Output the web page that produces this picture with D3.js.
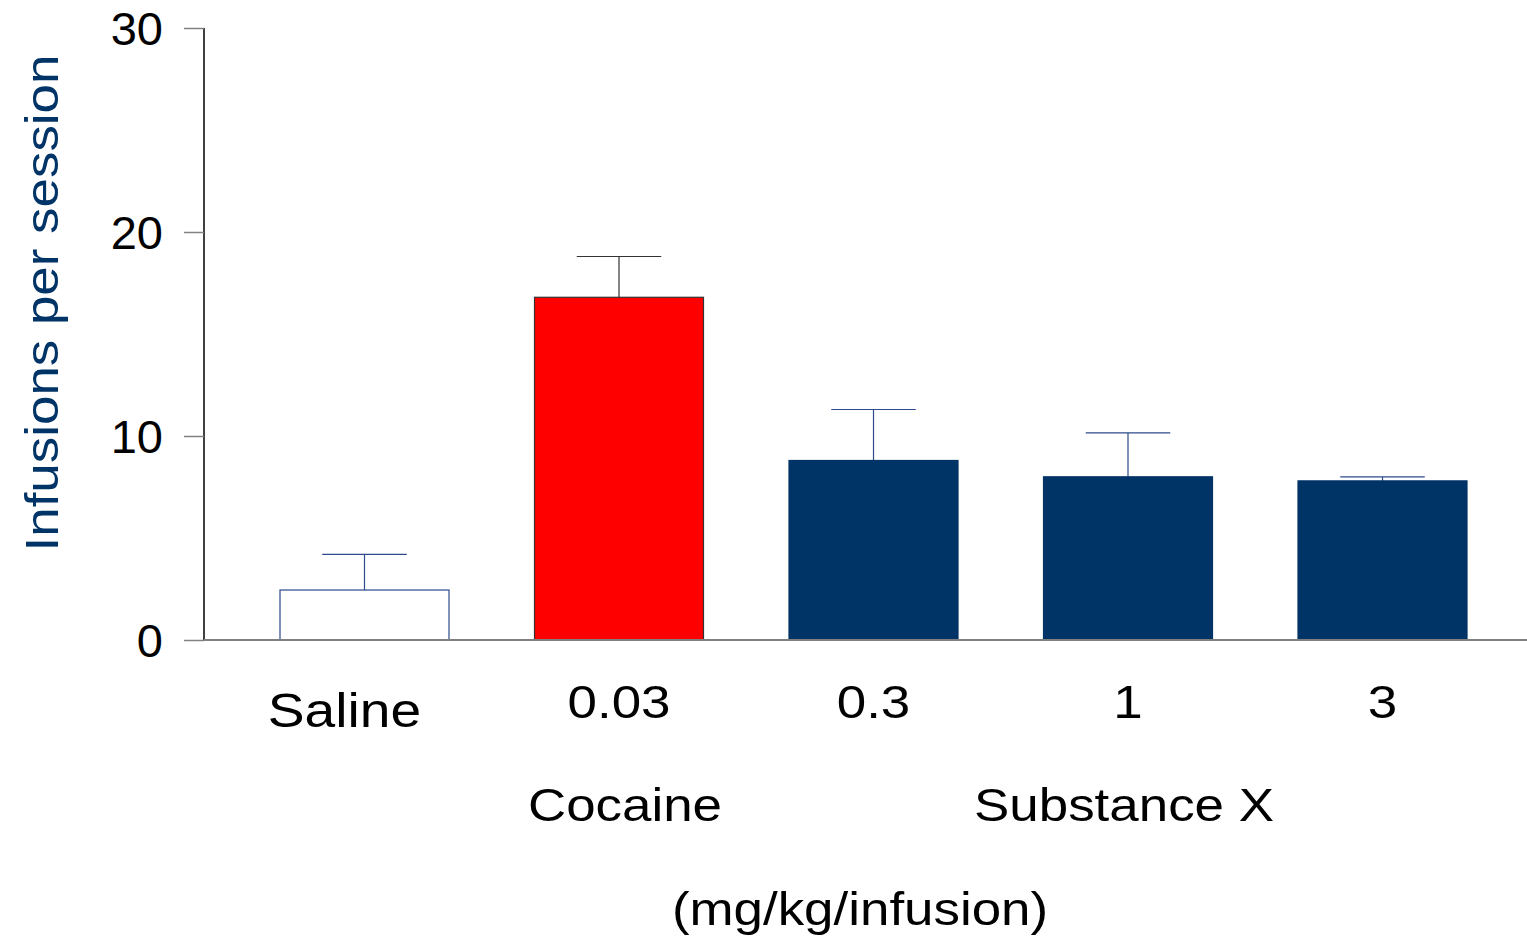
<!DOCTYPE html>
<html>
<head>
<meta charset="utf-8">
<script src="https://cdn.jsdelivr.net/npm/d3@7"></script>
<style>
  body { margin: 0; background: #fff; }
  svg text { font-family: "Liberation Sans", Arial, sans-serif; }
</style>
</head>
<body>
<div id="chart"></div>
<script>
// values
const groups = ['Saline', '0.03', '0.3', '1', '3']
const means = [2.45, 16.8, 8.8, 8.0, 7.8]
const sems = [1.75, 2.0, 2.5, 2.15, 0.2]
const yTicks = [0, 10, 20, 30]
const drugs = [
  { name: 'Cocaine', from: '0.03', to: '0.03' },
  { name: 'Substance X', from: '0.3', to: '3' }
]

const width = 1527
const height = 938
const margin = { top: 28, left: 204, right: 0, bottom: 298 }
const stretch = 1.15 // text in the picture is a bit wider than plain Arial

const fills = ['#ffffff', '#ff0000', '#003366', '#003366', '#003366']
const strokes = ['#2c4a8c', '#333333', '#003366', '#003366', '#003366']
const errColors = ['#2c4a8c', '#333333', '#2c4a8c', '#2c4a8c', '#2c4a8c']

const svg = d3.select('#chart').append('svg')
  .attr('width', width)
  .attr('height', height)

const x = d3.scaleBand()
  .domain(groups)
  .range([205, 1542])
  .paddingInner(0.336)
  .paddingOuter(0.2947)

const y = d3.scaleLinear()
  .domain([0, 30])
  .range([height - margin.bottom, margin.top])

// error bars (drawn first so the bar covers the lower part)
const err = svg.append('g')
groups.forEach((g, i) => {
  const cx = x(g) + x.bandwidth() / 2
  err.append('line')
    .attr('x1', cx).attr('x2', cx)
    .attr('y1', y(means[i])).attr('y2', y(means[i] + sems[i]))
    .attr('stroke', errColors[i]).attr('stroke-width', 1.2)
  err.append('line')
    .attr('x1', cx - x.bandwidth() * 0.25).attr('x2', cx + x.bandwidth() * 0.25)
    .attr('y1', y(means[i] + sems[i])).attr('y2', y(means[i] + sems[i]))
    .attr('stroke', errColors[i]).attr('stroke-width', 1.2)
})

svg.append('g')
  .selectAll('rect')
  .data(groups)
  .join('rect')
  .attr('x', d => x(d))
  .attr('width', x.bandwidth())
  .attr('y', (d, i) => y(means[i]))
  .attr('height', (d, i) => y(0) - y(means[i]))
  .attr('fill', (d, i) => fills[i])
  .attr('stroke', (d, i) => strokes[i])
  .attr('stroke-width', 1.2)

// y axis
const yAxis = svg.append('g')
  .attr('transform', `translate(${margin.left},0)`)
  .call(d3.axisLeft(y).tickValues(yTicks).tickSize(20).tickPadding(21))
yAxis.select('.domain').attr('stroke', '#000').attr('stroke-width', 1.5)
  .attr('d', `M0,${y(30)}V${y(0)}`)
yAxis.selectAll('.tick line').attr('stroke', '#808080').attr('stroke-width', 1.5)
yAxis.selectAll('.tick text')
  .attr('font-size', 47)
  .attr('fill', '#000')
  .attr('font-family', '"Liberation Sans", Arial, sans-serif')
  .attr('dy', '0.36em')

// x baseline
svg.append('line')
  .attr('x1', margin.left).attr('x2', width)
  .attr('y1', y(0)).attr('y2', y(0))
  .attr('stroke', '#808080').attr('stroke-width', 2)

const place = (px, py) => `translate(${px},${py}) scale(${stretch},1)`

// group labels
svg.append('g')
  .selectAll('text')
  .data(groups)
  .join('text')
  .attr('transform', d => place(x(d) + x.bandwidth() / 2 + (d === 'Saline' ? -20 : 0), d === 'Saline' ? 727 : 718))
  .attr('text-anchor', 'middle')
  .attr('font-size', d => d === 'Saline' ? 48 : 46)
  .text(d => d)

// drug names
svg.append('g')
  .selectAll('text')
  .data(drugs)
  .join('text')
  .attr('transform', d => place((x(d.from) + x(d.to) + x.bandwidth()) / 2 + (d.name === 'Cocaine' ? 6 : -4), 821))
  .attr('text-anchor', 'middle')
  .attr('font-size', 46)
  .text(d => d.name)

svg.append('text')
  .attr('transform', place(860, 925))
  .attr('text-anchor', 'middle')
  .attr('font-size', 46)
  .text('(mg/kg/infusion)')

svg.append('text')
  .attr('transform', `translate(58,303) rotate(-90) scale(${stretch},1)`)
  .attr('text-anchor', 'middle')
  .attr('font-size', 46)
  .attr('fill', '#003366')
  .text('Infusions per session')
</script>
</body>
</html>
